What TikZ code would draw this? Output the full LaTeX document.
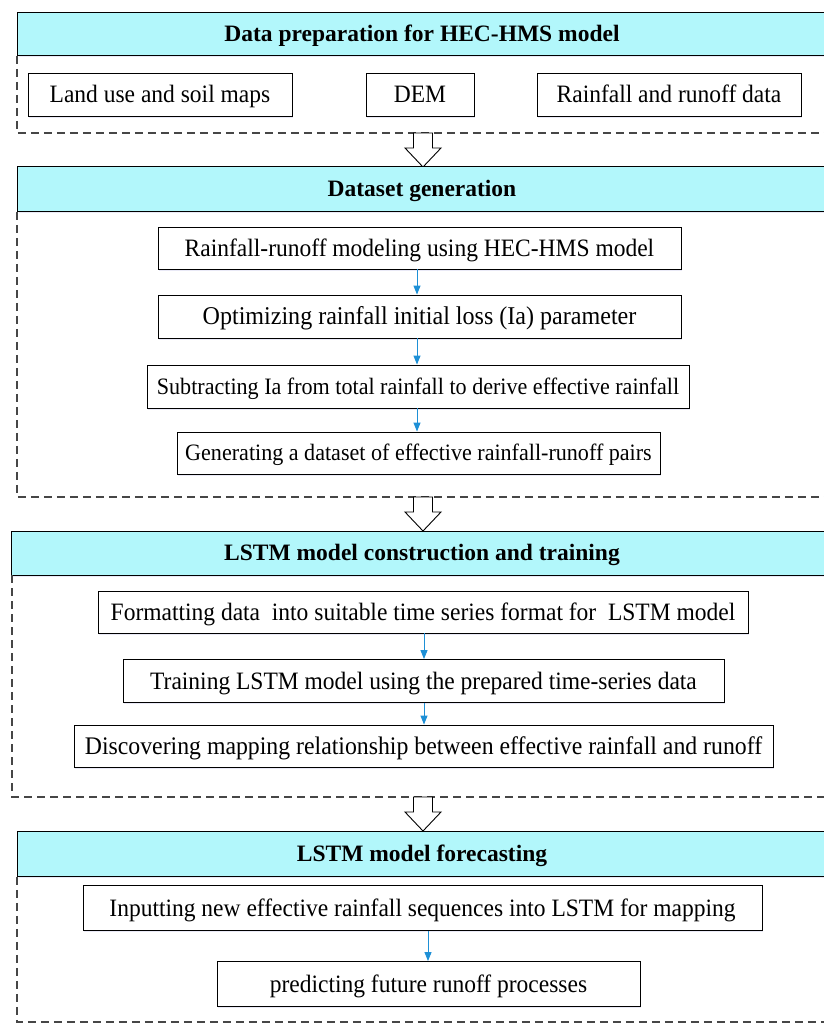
\documentclass[tikz,border=0pt]{standalone}
\usepackage{fontspec}
\setmainfont{Liberation Serif}
\newfontfamily\boxfont[FakeStretch=0.94]{Liberation Serif}
\usetikzlibrary{arrows.meta,shadows}
\definecolor{hdrfill}{RGB}{178,247,251}
\definecolor{flowblue}{RGB}{30,144,214}
\definecolor{framegray}{RGB}{70,70,70}
\begin{document}
\begin{tikzpicture}[x=1pt,y=-1pt,
  softshadow/.style={drop shadow={opacity=0.12, shadow xshift=1.2pt, shadow yshift=-1.8pt, fill=blue!40!gray}},
  hdrbar/.style={draw=black, fill=hdrfill, line width=0.9pt, anchor=north west, minimum width=820pt, inner sep=0pt, softshadow},
  hdrtext/.style={font=\fontsize{23.5}{26}\bfseries\selectfont, inner sep=0pt, text height=15.5pt, text depth=0pt},
  stepbox/.style={draw=black, fill=white, line width=0.9pt, font=\boxfont\fontsize{25}{28}\selectfont, inner sep=0pt, text height=16.5pt, text depth=0pt, softshadow},
  smallbox/.style={stepbox, font=\boxfont\fontsize{23.5}{26}\selectfont, text height=15.5pt},
  frameline/.style={draw=framegray, line width=1.1pt, dash pattern=on 8pt off 5pt},
  flow/.style={draw=flowblue, line width=1pt, -{Triangle[length=9pt,width=7pt]}},
  hollowarrow/.pic={\draw[line width=0.9pt, fill=white] (-9.5,0) -- (9.5,0) -- (9.5,15) -- (18,15) -- (0,34) -- (-18,15) -- (-9.5,15) -- cycle;}
]
\useasboundingbox (0,0) rectangle (824,1026);
\clip (0,0) rectangle (824,1026);

% ---------- Section 1
\node[hdrbar, minimum height=43pt] (h1) at (17,12) {};
\node[hdrtext] (t1) at (422,33.5) {Data preparation for HEC-HMS model};
\coordinate (f1a) at (17,133);
\coordinate (f1b) at (830,133);
\draw[frameline] (h1.south west) -- (f1a) -- (f1b);
\node[stepbox, minimum width=264pt, minimum height=43pt] (l1) at (160,94.5) {Land use and soil maps};
\node[stepbox, minimum width=108pt, minimum height=43pt] (l2) at (420,94.5) {DEM};
\node[stepbox, minimum width=264pt, minimum height=43pt] (l3) at (669,94.5) {Rainfall and runoff data};
\pic at (423,133) {hollowarrow};

% ---------- Section 2
\node[hdrbar, minimum height=45pt] (h2) at (17,166) {};
\node[hdrtext] (t2) at (422,188.5) {Dataset generation};
\coordinate (f2a) at (17,497);
\coordinate (f2b) at (830,497);
\draw[frameline] (h2.south west) -- (f2a) -- (f2b);
\node[stepbox, minimum width=523pt, minimum height=42pt] (b1) at (419.5,248) {Rainfall-runoff modeling using HEC-HMS model};
\node[stepbox, minimum width=523pt, minimum height=43pt, font=\boxfont\fontsize{25.6}{28}\selectfont] (b2) at (419.5,316.5) {Optimizing rainfall initial loss (Ia) parameter};
\node[smallbox, minimum width=542pt, minimum height=43pt] (b3) at (418,386.5) {Subtracting Ia from total rainfall to derive effective rainfall};
\node[smallbox, minimum width=483pt, minimum height=42pt] (b4) at (418.5,453) {Generating a dataset of effective rainfall-runoff pairs};
\draw[flow] (b1.south -| 417,0) -- (b2.north -| 417,0);
\draw[flow] (b2.south -| 417,0) -- (b3.north -| 417,0);
\draw[flow] (b3.south -| 417,0) -- (b4.north -| 417,0);
\pic at (423,497) {hollowarrow};

% ---------- Section 3
\node[hdrbar, minimum height=44pt] (h3) at (11,531) {};
\node[hdrtext] (t3) at (422,553) {LSTM model construction and training};
\coordinate (f3a) at (12,797);
\coordinate (f3b) at (830,797);
\draw[frameline] (12,575) -- (f3a) -- (f3b);
\node[stepbox, minimum width=650pt, minimum height=42pt] (c1) at (423,612) {Formatting data\ \ into suitable time series format for\ \ LSTM model};
\node[stepbox, minimum width=601pt, minimum height=43pt] (c2) at (423.5,681) {Training LSTM model using the prepared time-series data};
\node[stepbox, minimum width=699pt, minimum height=42pt, font=\boxfont\fontsize{25.3}{28}\selectfont] (c3) at (423.5,746) {Discovering mapping relationship between effective rainfall and runoff};
\draw[flow] (c1.south -| 424,0) -- (c2.north -| 424,0);
\draw[flow] (c2.south -| 424,0) -- (c3.north -| 424,0);
\pic at (423,797) {hollowarrow};

% ---------- Section 4
\node[hdrbar, minimum height=45pt] (h4) at (17,831) {};
\node[hdrtext] (t4) at (422,853.5) {LSTM model forecasting};
\coordinate (f4a) at (17,1022);
\coordinate (f4b) at (830,1022);
\draw[frameline] (h4.south west) -- (f4a) -- (f4b);
\node[stepbox, minimum width=679pt, minimum height=45pt] (e1) at (422.5,908) {Inputting new effective rainfall sequences into LSTM for mapping};
\node[stepbox, minimum width=423pt, minimum height=45pt] (e2) at (428.5,984) {predicting future runoff processes};
\draw[flow] (e1.south -| 428,0) -- (e2.north -| 428,0);
\end{tikzpicture}
\end{document}
